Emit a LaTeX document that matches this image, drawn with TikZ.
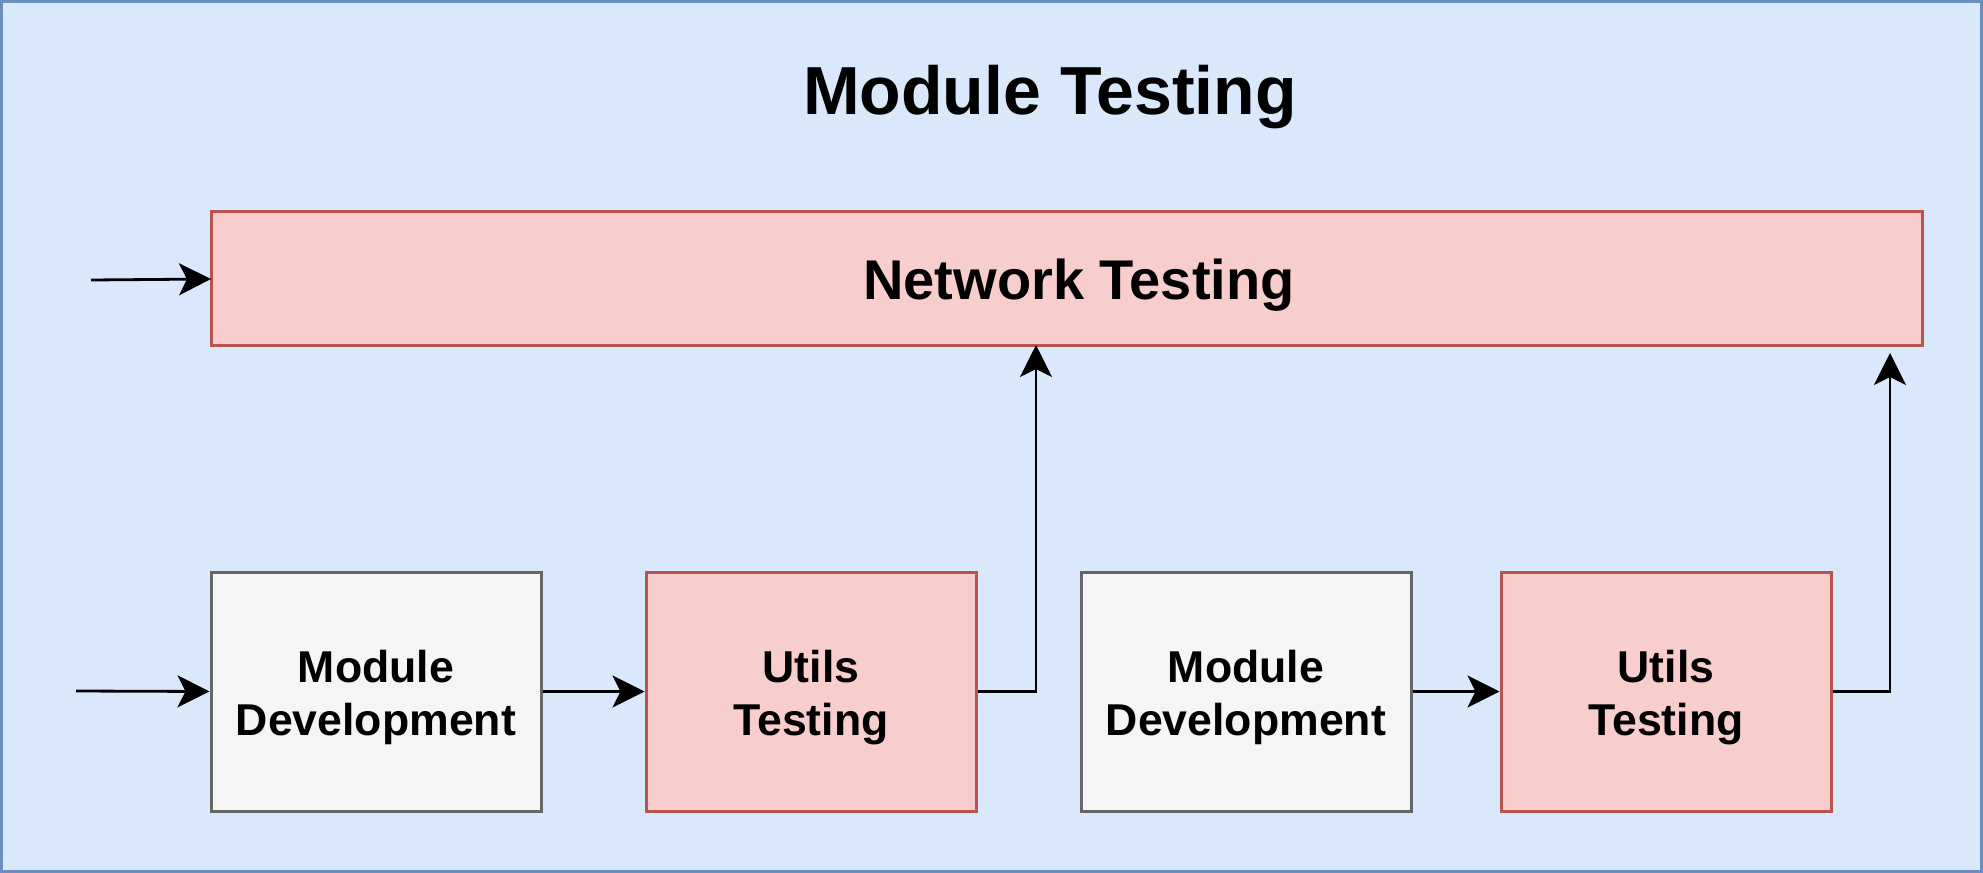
\documentclass[tikz,border=0pt]{standalone}
\usepackage{fontspec}
\setmainfont{Liberation Sans}
\usetikzlibrary{arrows.meta}
\definecolor{outerfill}{HTML}{DAE8FC}
\definecolor{outerdraw}{HTML}{6C8EBF}
\definecolor{redfill}{HTML}{F8CECC}
\definecolor{reddraw}{HTML}{B85450}
\definecolor{grayfill}{HTML}{F5F5F5}
\definecolor{graydraw}{HTML}{666666}
\tikzset{
  redbox/.style={draw=reddraw, fill=redfill, line width=1.5pt},
  graybox/.style={draw=graydraw, fill=grayfill, line width=1.5pt},
  bottombox/.style={minimum width=165pt, minimum height=119.5pt, inner sep=0pt},
  boxtext/.style={font=\bfseries\fontsize{22.3pt}{26.5pt}\selectfont, align=center, text=black},
  conn/.style={line width=1.4pt, -{Stealth[length=16pt,width=16pt,inset=4pt]}},
}
\begin{document}
\begin{tikzpicture}[x=0.5pt,y=-0.5pt]
\useasboundingbox (0,0) rectangle (1983,873);
\draw[fill=outerfill, draw=outerdraw, line width=1.6pt] (1.5,1.5) rectangle (1981.5,871.5);
\node[font=\bfseries\fontsize{34pt}{40pt}\selectfont] (title) at (1050,97) {Module Testing};
% network box
\draw[redbox] (211,211) rectangle (1922,345);
\coordinate (netL) at (211,279);
\coordinate (netB1) at (1036,345);
\coordinate (netB2) at (1890,353);
\node[font=\bfseries\fontsize{28pt}{32pt}\selectfont] (net) at (1079,285) {Network Testing};
% bottom boxes
\node[graybox, bottombox] (md1) at (376,691.5) {};
\node[redbox, bottombox] (ut1) at (811,691.5) {};
\node[graybox, bottombox] (md2) at (1246,691.5) {};
\node[redbox, bottombox] (ut2) at (1666,691.5) {};
\node[boxtext] (md1t) at ([yshift=-3pt]md1.center) {Module\\Development};
\node[boxtext] (ut1t) at ([yshift=-3pt]ut1.center) {Utils\\Testing};
\node[boxtext] (md2t) at ([yshift=-3pt]md2.center) {Module\\Development};
\node[boxtext] (ut2t) at ([yshift=-3pt]ut2.center) {Utils\\Testing};
% connectors
\coordinate (s1) at (91,280);
\coordinate (s2) at (76,691);
\draw[conn] (s1) -- (netL);
\draw[conn] (s2) -- (md1.west);
\draw[conn] (md1.east) -- (ut1.west);
\draw[conn] (md2.east) -- (ut2.west);
\draw[conn] (ut1.east) -| (netB1);
\draw[conn] (ut2.east) -| (netB2);
\end{tikzpicture}
\end{document}
